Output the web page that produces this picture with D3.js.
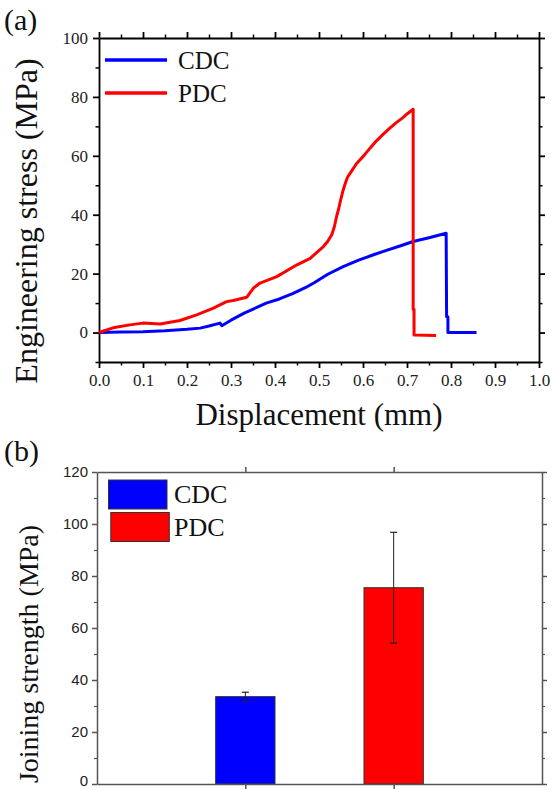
<!DOCTYPE html>
<html lang="en">
<head>
	<meta charset="utf-8">
	<title>Stress curves and joining strength</title>
	<script src='https://d3js.org/d3.v7.min.js'></script>
	<style>
		body { margin: 0; background: #fff; }
		svg { display: block; }
	</style>
</head>
<body>
	<div id="chart"></div>
	<script>
		// (a) stress - displacement curves
		let cdcDisp   = [0, 0.05, 0.1, 0.15, 0.2, 0.23, 0.25, 0.275, 0.279, 0.3, 0.33, 0.36, 0.38, 0.41, 0.44, 0.47, 0.49, 0.52, 0.555, 0.59, 0.624, 0.655, 0.684, 0.714, 0.75, 0.789, 0.79, 0.793, 0.793, 0.858];
		let cdcStress = [0, 0.2, 0.3, 0.6, 1.1, 1.5, 2.2, 3.2, 2.3, 4.2, 6.6, 8.6, 10.0, 11.4, 13.2, 15.3, 17.0, 19.8, 22.4, 24.6, 26.4, 28.0, 29.4, 30.9, 32.2, 33.7, 5.4, 5.4, 0, 0];
		let pdcDisp   = [0, 0.032, 0.07, 0.1, 0.139, 0.184, 0.222, 0.26, 0.29, 0.305, 0.336, 0.351, 0.366, 0.404, 0.45, 0.48, 0.51, 0.52, 0.529, 0.535, 0.54, 0.545, 0.55, 0.555, 0.56, 0.565, 0.574, 0.585, 0.601, 0.616, 0.63, 0.645, 0.661, 0.675, 0.69, 0.70, 0.714, 0.714, 0.716, 0.716, 0.766];
		let pdcStress = [0, 1.6, 2.6, 3.2, 2.9, 4.1, 6.0, 8.3, 10.5, 10.9, 12.0, 15.1, 16.8, 19.0, 23.0, 25.2, 29.2, 31.0, 33.2, 36.0, 39.4, 42.2, 45.5, 48.4, 50.8, 52.8, 54.8, 57.3, 59.9, 62.6, 65.0, 67.2, 69.4, 71.2, 72.9, 74.2, 75.8, 7.9, 7.9, -0.8, -1.0];
		let xTicksA = [0, 0.1, 0.2, 0.3, 0.4, 0.5, 0.6, 0.7, 0.8, 0.9, 1.0];
		let yTicksA = [0, 20, 40, 60, 80, 100];

		// (b) joining strength bars
		let groups = ["CDC", "PDC"];
		let strength = [33.6, 75.5];
		let strengthErr = [1.7, 21.3];
		let yTicksB = [0, 20, 40, 60, 80, 100, 120];
		let colors = ["#0000ff", "#ff0000"];

		let serif = "'Liberation Serif', 'Times New Roman', serif";
		let sans = "'Liberation Sans', Arial, sans-serif";

		let svg = d3.select("#chart")
			.append("svg")
			.attr("width", 552)
			.attr("height", 790);

		// ---------- panel (a) ----------
		let x = d3.scaleLinear().domain([0, 1]).range([99, 539]);
		let y = d3.scaleLinear().domain([-10, 100]).range([362, 38]);

		let minorX = d3.range(0.05, 1, 0.1);
		let minorY = [-10, 10, 30, 50, 70, 90];

		function styleAxis(g, col, w) {
			g.selectAll("path, line").attr("stroke", col).attr("stroke-width", w);
			g.selectAll("text").attr("fill", "#222");
		}

		let pa = svg.append("g");
		// bottom
		pa.append("g").attr("transform", "translate(0,362)")
			.call(d3.axisBottom(x).tickValues(xTicksA).tickSize(6).tickSizeOuter(0).tickPadding(6).tickFormat(d3.format(".1f")))
			.call(g => styleAxis(g, "#000", 1.8))
			.selectAll("text").attr("font-family", serif).attr("font-size", 17);
		pa.append("g").attr("transform", "translate(0,362)")
			.call(d3.axisBottom(x).tickValues(minorX).tickSize(3.5).tickFormat(""))
			.call(g => g.select(".domain").remove())
			.call(g => styleAxis(g, "#000", 1.5));
		// top
		pa.append("g").attr("transform", "translate(0,38)")
			.call(d3.axisTop(x).tickValues(xTicksA).tickSize(6).tickSizeOuter(0).tickFormat(""))
			.call(g => styleAxis(g, "#000", 1.8));
		pa.append("g").attr("transform", "translate(0,38)")
			.call(d3.axisTop(x).tickValues(minorX).tickSize(3.5).tickFormat(""))
			.call(g => g.select(".domain").remove())
			.call(g => styleAxis(g, "#000", 1.5));
		// left
		pa.append("g").attr("transform", "translate(99,0)")
			.call(d3.axisLeft(y).tickValues(yTicksA).tickSize(6).tickSizeOuter(0).tickPadding(5))
			.call(g => styleAxis(g, "#000", 1.8))
			.selectAll("text").attr("font-family", serif).attr("font-size", 17);
		pa.append("g").attr("transform", "translate(99,0)")
			.call(d3.axisLeft(y).tickValues(minorY).tickSize(3.5).tickFormat(""))
			.call(g => g.select(".domain").remove())
			.call(g => styleAxis(g, "#000", 1.5));
		// right
		pa.append("g").attr("transform", "translate(539,0)")
			.call(d3.axisRight(y).tickValues(yTicksA).tickSize(6).tickSizeOuter(0).tickFormat(""))
			.call(g => styleAxis(g, "#000", 1.8));
		pa.append("g").attr("transform", "translate(539,0)")
			.call(d3.axisRight(y).tickValues(minorY).tickSize(3.5).tickFormat(""))
			.call(g => g.select(".domain").remove())
			.call(g => styleAxis(g, "#000", 1.5));

		// curves
		let line = d3.line()
			.x(function(d) { return x(d[0]) })
			.y(function(d) { return y(d[1]) });
		let cdcData = d3.zip(cdcDisp, cdcStress);
		let pdcData = d3.zip(pdcDisp, pdcStress);
		pa.append("path").datum(cdcData)
			.attr("fill", "none").attr("stroke", colors[0]).attr("stroke-width", 3)
			.attr("stroke-linejoin", "round")
			.attr("d", line);
		pa.append("path").datum(pdcData)
			.attr("fill", "none").attr("stroke", colors[1]).attr("stroke-width", 3)
			.attr("stroke-linejoin", "round")
			.attr("d", line);

		// legend (a)
		groups.forEach(function(name, i) {
			let ly = 60 + i * 33;
			pa.append("line")
				.attr("x1", 105).attr("x2", 167).attr("y1", ly).attr("y2", ly)
				.attr("stroke", colors[i]).attr("stroke-width", 3.5);
			pa.append("text")
				.attr("x", 178).attr("y", ly + 8.5)
				.attr("font-family", serif).attr("font-size", 25).attr("fill", "#111")
				.text(name);
		});

		// titles (a)
		pa.append("text")
			.attr("x", 319).attr("y", 425)
			.attr("text-anchor", "middle")
			.attr("font-family", serif).attr("font-size", 31).attr("fill", "#111")
			.text("Displacement (mm)");
		pa.append("text")
			.attr("transform", "translate(37,221) rotate(-90)")
			.attr("text-anchor", "middle")
			.attr("font-family", serif).attr("font-size", 32).attr("fill", "#111")
			.text("Engineering stress (MPa)");
		pa.append("text")
			.attr("x", 4).attr("y", 30)
			.attr("font-family", serif).attr("font-size", 30).attr("fill", "#111")
			.text("(a)");

		// ---------- panel (b) ----------
		let xb = d3.scaleLinear().domain([0, 3]).range([97, 542]);
		let yb = d3.scaleLinear().domain([0, 120]).range([784, 472]);
		let minorB = [10, 30, 50, 70, 90, 110];
		let catPos = [1, 2];
		let axisCol = "#555";

		let pb = svg.append("g");

		// bars
		pb.selectAll("rect.bar")
			.data(strength)
			.enter()
			.append("rect")
			.attr("class", "bar")
			.attr("x", function(d, i) { return xb(catPos[i] - 0.2) })
			.attr("width", xb(0.4) - xb(0))
			.attr("y", function(d) { return yb(d) })
			.attr("height", function(d) { return yb(0) - yb(d) })
			.attr("fill", function(d, i) { return colors[i] })
			.attr("stroke", "#333").attr("stroke-width", 1);

		// error bars
		strength.forEach(function(v, i) {
			let cx = xb(catPos[i]);
			let top = yb(v + strengthErr[i]);
			let bot = yb(v - strengthErr[i]);
			pb.append("line").attr("x1", cx).attr("x2", cx).attr("y1", top).attr("y2", bot)
				.attr("stroke", "#222").attr("stroke-width", 1);
			[top, bot].forEach(function(yy) {
				pb.append("line").attr("x1", cx - 3.5).attr("x2", cx + 3.5).attr("y1", yy).attr("y2", yy)
					.attr("stroke", "#222").attr("stroke-width", 1.2);
			});
		});

		// axes (b)
		pb.append("g").attr("transform", "translate(0,784)")
			.call(d3.axisBottom(xb).tickValues(catPos).tickSize(5).tickSizeOuter(0).tickFormat(""))
			.call(g => styleAxis(g, axisCol, 1.5));
		pb.append("g").attr("transform", "translate(0,472)")
			.call(d3.axisTop(xb).tickValues(catPos).tickSize(5).tickSizeOuter(0).tickFormat(""))
			.call(g => styleAxis(g, axisCol, 1.5));
		pb.append("g").attr("transform", "translate(97,0)")
			.call(d3.axisLeft(yb).tickValues(yTicksB).tickSize(5).tickSizeOuter(0).tickPadding(4))
			.call(g => styleAxis(g, axisCol, 1.5))
			.selectAll("text").attr("font-family", sans).attr("font-size", 15).attr("fill", "#222")
			.attr("dy", function(d) { return d === 0 ? "0.1em" : "0.32em" });
		pb.append("g").attr("transform", "translate(97,0)")
			.call(d3.axisLeft(yb).tickValues(minorB).tickSize(3).tickFormat(""))
			.call(g => g.select(".domain").remove())
			.call(g => styleAxis(g, axisCol, 1.2));
		pb.append("g").attr("transform", "translate(542,0)")
			.call(d3.axisRight(yb).tickValues(yTicksB).tickSize(5).tickSizeOuter(0).tickFormat(""))
			.call(g => styleAxis(g, axisCol, 1.5));
		pb.append("g").attr("transform", "translate(542,0)")
			.call(d3.axisRight(yb).tickValues(minorB).tickSize(3).tickFormat(""))
			.call(g => g.select(".domain").remove())
			.call(g => styleAxis(g, axisCol, 1.2));

		// legend (b)
		groups.forEach(function(name, i) {
			pb.append("rect")
				.attr("x", 108.5 + i * 2.3).attr("y", 480 + i * 32.5)
				.attr("width", 58.5).attr("height", 29)
				.attr("fill", colors[i]).attr("stroke", "#333").attr("stroke-width", 1);
			pb.append("text")
				.attr("x", 174).attr("y", 503 + i * 33)
				.attr("font-family", serif).attr("font-size", 26).attr("fill", "#111")
				.text(name);
		});

		// titles (b)
		pb.append("text")
			.attr("transform", "translate(38,654) rotate(-90)")
			.attr("text-anchor", "middle")
			.attr("font-family", serif).attr("font-size", 28).attr("fill", "#111")
			.text("Joining strength (MPa)");
		pb.append("text")
			.attr("x", 4).attr("y", 461)
			.attr("font-family", serif).attr("font-size", 30).attr("fill", "#111")
			.text("(b)");
	</script>
</body>
</html>
